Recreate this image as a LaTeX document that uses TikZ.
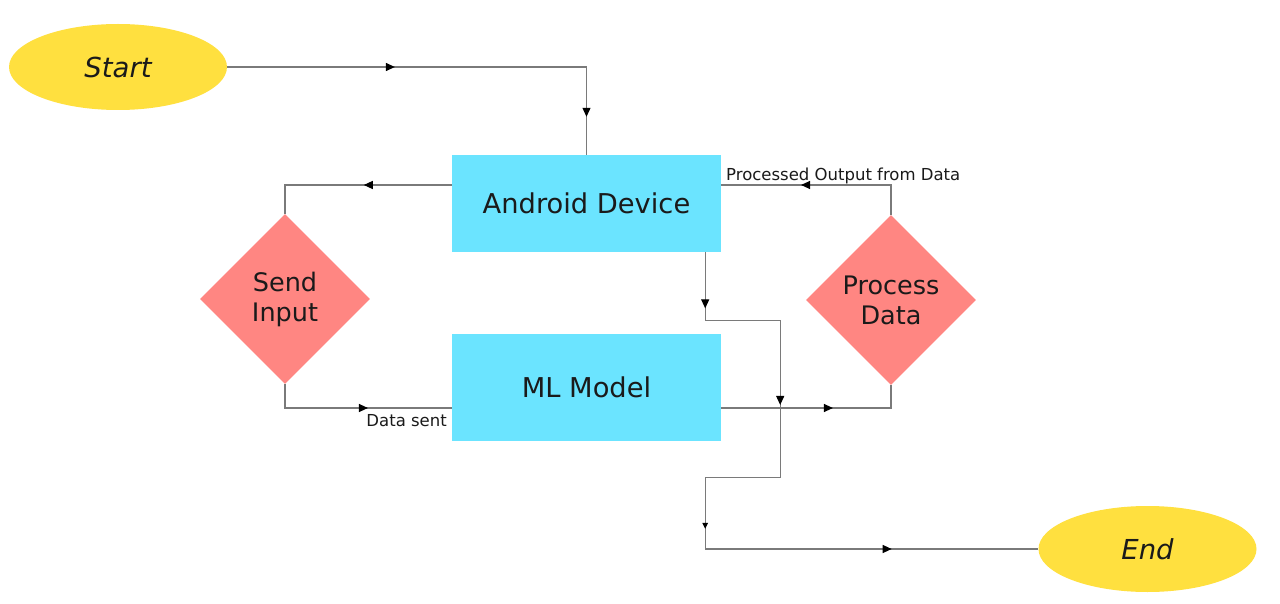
\documentclass[tikz,border=0pt]{standalone}
\usepackage{fontspec}
\setmainfont{DejaVu Sans}
\usetikzlibrary{shapes.geometric,arrows.meta,decorations.markings,calc}
\definecolor{yel}{HTML}{FFE03F}
\definecolor{cyn}{HTML}{6BE4FF}
\definecolor{sal}{HTML}{FF8682}
\definecolor{ln}{HTML}{7A7A7A}
\definecolor{txt}{HTML}{1A1A1A}
\begin{document}
\begin{tikzpicture}[x=1pt,y=-1pt,
  term/.style={ellipse,fill=yel,minimum width=218pt,minimum height=86pt,inner sep=0pt,font=\fontsize{27.5}{30}\selectfont\itshape,text=txt},
  box/.style={rectangle,fill=cyn,minimum width=269pt,inner sep=0pt,font=\fontsize{27.3}{30}\selectfont,text=txt},
  dec/.style={diamond,fill=sal,minimum width=170pt,minimum height=170pt,aspect=1,inner sep=0pt,font=\fontsize{25.5}{30}\selectfont,text=txt,align=center},
  lbl/.style={font=\fontsize{16.5}{18}\selectfont,text=txt,inner sep=0pt},
  conn/.style={draw=ln,line width=1.2pt,postaction={decorate}},
  tip/.style={decoration={markings,mark=at position #1 with {\arrow[black]{Triangle[length=9pt,width=8pt]}}}}
]
\useasboundingbox (0,0) rectangle (1280,604);
\fill[white] (0,0) rectangle (1280,604);
\node[term] (start) at (118,67) {Start};
\node[term] (end) at (1147.5,549) {End};
\node[box,minimum height=97pt] (dev) at (586.5,203.5) {Android Device};
\node[box,minimum height=107pt] (ml) at (586.5,387.5) {ML Model};
\node[dec] (si) at (285,299) {Send\\Input};
\node[dec] (pd) at (891,300) {Process\\Data};
\coordinate (devl) at ([yshift=18.5pt]dev.west);
\coordinate (devr) at ([yshift=18.5pt]dev.east);
\coordinate (mll) at ([yshift=-20.5pt]ml.west);
\coordinate (mlr) at ([yshift=-20.5pt]ml.east);
\coordinate (devb) at ([xshift=-16pt]dev.south east);
% connectors
\draw[conn,decoration={markings,
  mark=at position 0.375 with {\arrow[black]{Triangle[length=9pt,width=8pt]}},
  mark=at position 0.915 with {\arrow[black]{Triangle[length=9pt,width=8pt]}}}]
  (start.east) -| (dev.north);
\draw[conn,tip=0.45] (devl) -| (si.north);
\draw[conn,tip=0.56] (si.south) |- (mll);
\draw[conn,tip=0.58] (mlr) -| (pd.south);
\draw[conn,tip=0.60] (pd.north) |- (devr);
\draw[conn,decoration={markings,
  mark=at position 0.072 with {\arrow[black]{Triangle[length=9pt,width=8pt]}},
  mark=at position 0.292 with {\arrow[black]{Triangle[length=9pt,width=8pt]}},
  mark=at position 0.547 with {\arrow[black]{Triangle[length=6pt,width=5.5pt]}},
  mark=at position 0.812 with {\arrow[black]{Triangle[length=9pt,width=8pt]}}}]
  (devb) -- ++(0,68) -- ++(75,0) -- ++(0,157) -- ++(-75,0) |- (end.west);
% labels
\node[lbl,anchor=base west] (lpo) at (726,181) {Processed Output from Data};
\node[lbl,anchor=base east] (lds) at (447,426) {Data sent};
\end{tikzpicture}
\end{document}
